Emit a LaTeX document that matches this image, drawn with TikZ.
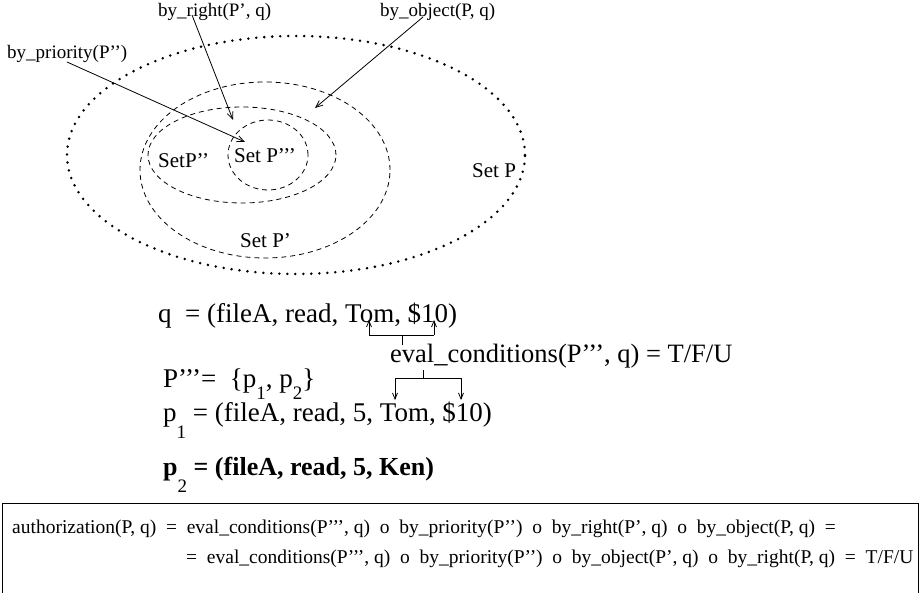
\documentclass[tikz,border=0pt]{standalone}
\usepackage{fontspec}
\setmainfont{Liberation Serif}[Ligatures=TeXOff]
\usetikzlibrary{arrows.meta,shapes.geometric}
\begin{document}
\begin{tikzpicture}[x=1pt,y=-1pt,
  lbl/.style={anchor=base west, inner sep=0pt, font=\fontsize{19}{22}\selectfont},
  big/.style={anchor=base west, inner sep=0pt, font=\fontsize{27}{30}\selectfont},
  setlbl/.style={anchor=base west, inner sep=0pt, font=\fontsize{21}{24}\selectfont},
  form/.style={anchor=base west, inner sep=0pt, font=\fontsize{19.5}{22}\selectfont},
  setell/.style={ellipse, inner sep=0pt},
  dotset/.style={line width=2.8pt, line cap=round, dash pattern=on 0pt off 8pt},
  dashset/.style={line width=0.8pt, dash pattern=on 5pt off 4pt},
  arr/.style={-{Straight Barb[length=7pt,width=6pt]}, line width=0.8pt},
  brk/.style={line width=0.8pt},
  brka/.style={-{Straight Barb[length=6pt,width=5pt]}, line width=0.8pt},
]
\useasboundingbox (0,0) rectangle (920,593);
% ellipses
\node[setell, minimum width=458pt, minimum height=240pt] (eP) at (296,155) {};
\draw[dotset] (296,155) ellipse [x radius=229pt, y radius=119pt];
\node[setell, minimum width=250pt, minimum height=176pt] (eP1) at (265,170) {};
\draw[dashset] (265,170) ellipse [x radius=125pt, y radius=88pt];
\node[setell, minimum width=188pt, minimum height=96pt] (eP2) at (242,155) {};
\draw[dashset] (242,155) ellipse [x radius=94pt, y radius=48pt];
\node[setell, minimum width=80pt, minimum height=70pt] (eP3) at (268,155) {};
\draw[dashset] (268,155) ellipse [x radius=40pt, y radius=35pt];
% set labels
\node[setlbl] (lP) at (472,178) {Set P};
\node[setlbl] (lP1) at (240,248) {Set P’};
\node[setlbl] (lP2) at (158,168) {SetP’’};
\node[setlbl] (lP3) at (234,163) {Set P’’’};
% top labels
\node[lbl] (bright) at (158,17) {by\_right(P’, q)};
\node[lbl] (bobject) at (380,17) {by\_object(P, q)};
\node[lbl] (bprio) at (7,59) {by\_priority(P’’)};
\coordinate (sR) at (192,15);
\coordinate (tR) at (233,120);
\coordinate (sO) at (423,17);
\coordinate (tO) at (315,108);
\coordinate (sPr) at (67,62);
\coordinate (tPr) at (245,142);
\draw[arr] (sR) -- (tR);
\draw[arr] (sO) -- (tO);
\draw[arr] (sPr) -- (tPr);
% middle text
\node[big] (q) at (158,323) {q~~= (fileA, read, Tom, \$10)};
\node[big, font=\fontsize{26.5}{30}\selectfont] (ev) at (390,362) {eval\_conditions(P’’’, q) = T/F/U};
\node[big] (P3) at (163,387) {P’’’=~~\{p\raisebox{-12pt}{\fontsize{19}{20}\selectfont 1}, p\raisebox{-12pt}{\fontsize{19}{20}\selectfont 2}\}};
\node[big] (p1) at (163,421) {p\raisebox{-17pt}{\fontsize{19}{20}\selectfont 1}~= (fileA, read, 5, Tom, \$10)};
\node[big, font=\fontsize{26}{30}\selectfont\bfseries] (p2) at (163,475) {p\raisebox{-17pt}{\fontsize{19}{20}\selectfont\mdseries 2}~= (fileA, read, 5, Ken)};
% brackets
\coordinate (u1) at (369,320);
\coordinate (u2) at (434,320);
\coordinate (uL) at (369,335);
\coordinate (uR) at (434,335);
\coordinate (uM) at (402,335);
\coordinate (uS) at (402,345);
\draw[brk] (uS) -- (uM);
\draw[brk] (uL) -- (uR);
\draw[brka] (uL) -- (u1);
\draw[brka] (uR) -- (u2);
\coordinate (dS) at (423,370);
\coordinate (dM) at (423,378);
\coordinate (dL) at (395,378);
\coordinate (dR) at (461,378);
\coordinate (d1) at (395,400);
\coordinate (d2) at (461,400);
\draw[brk] (dS) -- (dM);
\draw[brk] (dL) -- (dR);
\draw[brka] (dL) -- (d1);
\draw[brka] (dR) -- (d2);
% formula box
\node[draw, line width=0.8pt, anchor=north west, minimum width=916.5pt, minimum height=91pt, inner sep=0pt] (box) at (1.5,503) {};
\node[form] (f1) at (12,533) {authorization(P, q)~~=~~eval\_conditions(P’’’, q)~~o~~by\_priority(P’’)~~o~~by\_right(P’, q)~~o~~by\_object(P, q)~~=};
\node[form] (f2) at (186,563) {=~~eval\_conditions(P’’’, q)~~o~~by\_priority(P’’)~~o~~by\_object(P’, q)~~o~~by\_right(P, q)~~=~~T/F/U};
\end{tikzpicture}
\end{document}
